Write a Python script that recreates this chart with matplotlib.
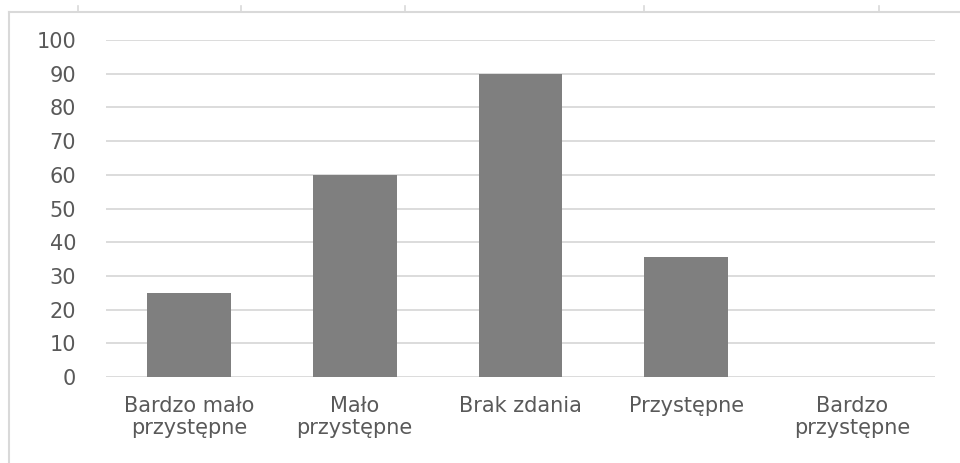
import matplotlib.pyplot as plt
from matplotlib.lines import Line2D

categories = ['Bardzo mało\nprzystępne', 'Mało\nprzystępne', 'Brak zdania',
              'Przystępne', 'Bardzo\nprzystępne']
values = [25, 60, 90, 35.5, 0]
yticks = [0, 10, 20, 30, 40, 50, 60, 70, 80, 90, 100]
top_ticks_px = [78, 241, 405, 644, 879]

W, H = 960, 463
fig = plt.figure(figsize=(W / 100, H / 100), dpi=100)
plt.rcParams['font.family'] = ['DejaVu Sans']

ax = fig.add_axes([106 / W, 1 - 377 / H, (935 - 106) / W, (377 - 40) / H])
ax.bar(range(len(values)), values, width=0.506, color='#7f7f7f', zorder=3)
ax.set_xlim(-0.5, len(values) - 0.5)
ax.set_ylim(0, 100)
ax.set_yticks(yticks)
ax.set_xticks(range(len(categories)))
ax.set_xticklabels(categories, linespacing=1.12)
ax.grid(axis='y', color='#d9d9d9', linewidth=1.3, zorder=0)
ax.tick_params(axis='both', length=0, labelsize=15, colors='#595959')
ax.tick_params(axis='y', pad=21.5)
ax.tick_params(axis='x', pad=14)
for s in ax.spines.values():
    s.set_visible(False)

# outer frame (partly cropped) with small ticks at the top
c = '#d9d9d9'
fig.add_artist(Line2D([9 / W, 9 / W], [0, 1 - 12 / H], color=c, lw=1.5))
fig.add_artist(Line2D([9 / W, 1], [1 - 12 / H, 1 - 12 / H], color=c, lw=1.5))
for t in top_ticks_px:
    fig.add_artist(Line2D([t / W, t / W], [1 - 12 / H, 1 - 6 / H], color=c, lw=1.2))

fig.savefig('out.png', dpi=100)
